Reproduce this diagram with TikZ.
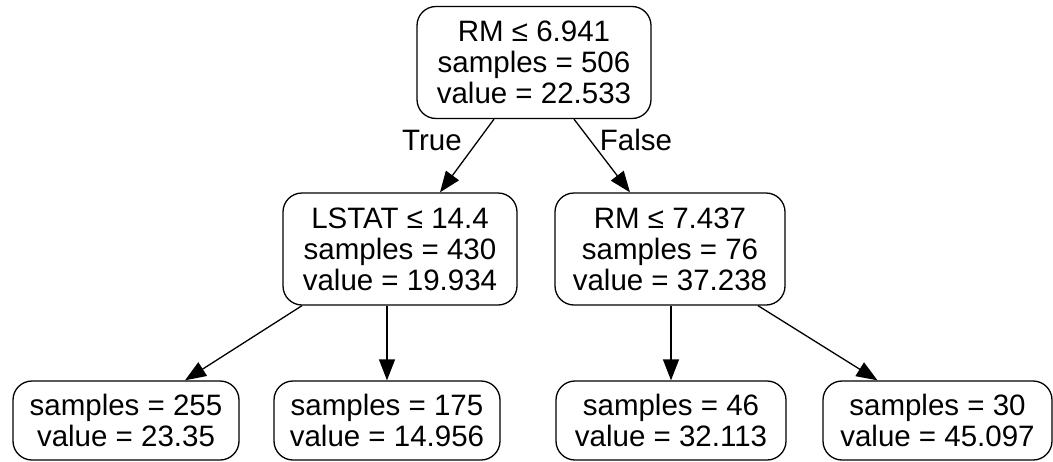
\documentclass[tikz,border=0pt]{standalone}
\usepackage{fontspec}
\setmainfont{Liberation Sans}
\usetikzlibrary{arrows.meta,calc}
\begin{document}
\begin{tikzpicture}[x=1pt,y=-1pt,
  treenode/.style={draw=black, line width=1.3pt, rounded corners=19pt,
    inner sep=0pt, align=center, fill=white,
    font=\fontsize{29.5}{31}\selectfont},
  split/.style={treenode, minimum height=112pt},
  leaf/.style={treenode, minimum height=79pt},
  edge/.style={line width=1.3pt, -{Triangle[length=21pt,width=16pt]}},
  edgelabel/.style={font=\fontsize{29.5}{31}\selectfont, anchor=base, inner sep=0pt}]
\useasboundingbox (0,0) rectangle (1053,461);

% decision nodes
\node[split, minimum width=234pt] (root) at (534,62.5)
  {RM ≤ 6.941\\samples = 506\\value = 22.533};
\node[split, minimum width=234pt] (lstat) at (400,249)
  {LSTAT ≤ 14.4\\samples = 430\\value = 19.934};
\node[split, minimum width=230pt] (rm) at (670,249)
  {RM ≤ 7.437\\samples = 76\\value = 37.238};

% leaves
\node[leaf, minimum width=226pt] (l1) at (126,420.5) {samples = 255\\value = 23.35};
\node[leaf, minimum width=226pt] (l2) at (387,420.5) {samples = 175\\value = 14.956};
\node[leaf, minimum width=230pt] (l3) at (671,420.5) {samples = 46\\value = 32.113};
\node[leaf, minimum width=229pt] (l4) at (937.5,420.5) {samples = 30\\value = 45.097};

% branches
\draw[edge] ($(root.south)+(-40,0)$) -- ($(lstat.north)+(40,0)$);
\draw[edge] ($(root.south)+(40,0)$) -- ($(rm.north)+(-40,0)$);
\draw[edge] ($(lstat.south)+(-98,0)$) -- ($(l1.north)+(59,0)$);
\draw[edge] ($(lstat.south)+(-13,0)$) -- (l2.north);
\draw[edge] ($(rm.south)+(1,0)$) -- (l3.north);
\draw[edge] ($(rm.south)+(88,0)$) -- ($(l4.north)+(-60,0)$);

% branch labels
\node[edgelabel] (true) at (432,150) {True};
\node[edgelabel] (false) at (636,150) {False};
\end{tikzpicture}
\end{document}
